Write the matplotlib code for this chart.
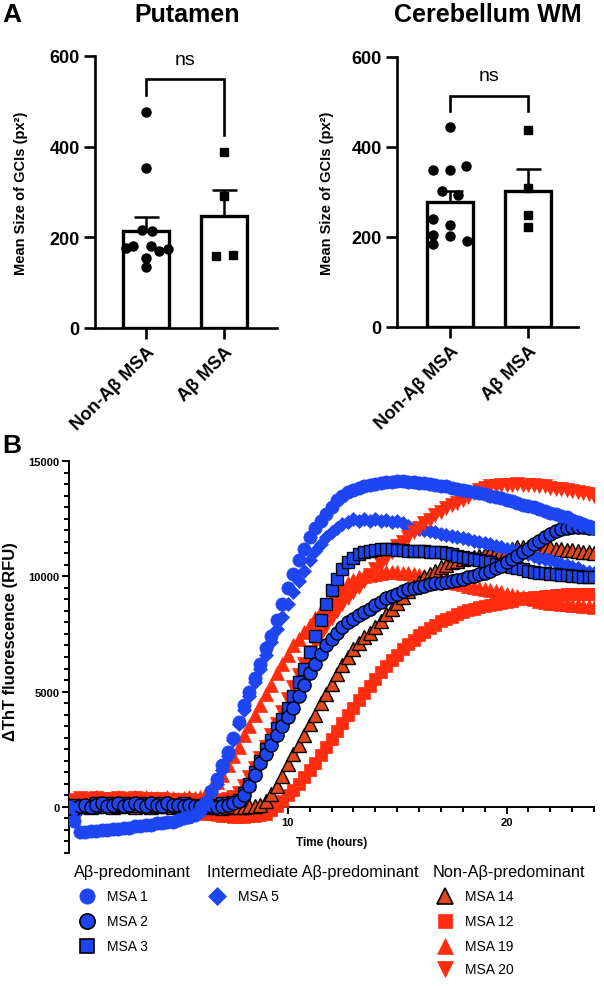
import matplotlib
matplotlib.use('Agg')
import matplotlib.pyplot as plt
import numpy as np

plt.rcParams['font.family'] = ['Liberation Sans', 'DejaVu Sans']

W, H = 604, 987

# ---------------- panel A data ----------------
groups = ['Non-Aβ MSA', 'Aβ MSA']

put_mean = [215, 248]
put_sem = [30, 57]
put_non = [477, 354, 216, 214, 177, 181, 181, 170, 175, 155, 134]
put_non_dx = [0, 0, -0.05, 0.08, -0.26, -0.17, 0.06, 0.17, 0.28, 0, 0]
put_ab = [389, 292, 158, 162]
put_ab_dx = [0, 0, -0.1, 0.11]

cer_mean = [278, 303]
cer_sem = [24, 49]
cer_non = [444, 349, 349, 357, 302, 293, 240, 227, 204, 202, 184, 191]
cer_non_dx = [0, -0.22, 0, 0.21, -0.1, 0.1, -0.22, 0, -0.22, 0, -0.22, 0.22]
cer_ab = [438, 309, 249, 222]
cer_ab_dx = [0, 0, 0, 0]

# ---------------- panel B data (ThT, read every 15 min) ----------------
time_h = np.linspace(0, 24, 97)

msa1 = [0, -600, -1100, -1100, -1050, -1050, -1000, -1000,
        -950, -950, -900, -900, -850, -850, -800, -800,
        -700, -700, -650, -650, -550, -500, -450, -350,
        -200, 200, 700, 1200, 1800, 2400, 3000, 3700,
        4400, 5000, 5600, 6200, 6900, 7400, 8100, 8800,
        9500, 10100, 10700, 11200, 11700, 12100, 12400, 12700,
        13000, 13300, 13500, 13650, 13750, 13850, 13900, 13950,
        14000, 14050, 14100, 14100, 14150, 14150, 14100, 14100,
        14050, 14050, 14000, 13950, 13900, 13900, 13850, 13800,
        13750, 13700, 13650, 13600, 13550, 13500, 13450, 13400,
        13300, 13250, 13200, 13100, 13050, 13000, 12900, 12850,
        12750, 12700, 12600, 12550, 12450, 12350, 12250, 12200,
        12100]

msa2 = [0, -100, 50, 100, 0, 100, 150, 50,
        100, 150, 50, 100, 150, 100, 50, 150,
        100, 50, 150, 100, 100, 50, 100, 50,
        50, 0, 50, 0, 50, 100, 150, 250,
        500, 900, 1400, 1900, 2300, 2700, 3100, 3500,
        3900, 4300, 4800, 5300, 5800, 6200, 6650, 7000,
        7300, 7550, 7800, 8000, 8150, 8300, 8450, 8600,
        8750, 8900, 9050, 9150, 9250, 9350, 9450, 9500,
        9550, 9600, 9650, 9700, 9700, 9750, 9800, 9850,
        9900, 9950, 10000, 10100, 10150, 10250, 10350, 10450,
        10600, 10750, 10900, 11050, 11200, 11400, 11550, 11700,
        11850, 11950, 12050, 12100, 12150, 12150, 12150, 12100,
        12100]

msa3 = [0, 100, 0, 50, 100, 150, 100, 150,
        50, 100, 150, 100, 50, 150, 100, 50,
        100, 150, 100, 50, 100, 150, 50, 100,
        50, 100, 50, 100, 150, 150, 200, 300,
        600, 1000, 1500, 2000, 2500, 2900, 3400, 3800,
        4300, 4800, 5400, 6000, 6700, 7400, 8100, 8800,
        9400, 9900, 10300, 10600, 10800, 10950, 11050, 11100,
        11150, 11200, 11200, 11200, 11150, 11150, 11100, 11100,
        11100, 11100, 11050, 11050, 11050, 11000, 10950, 10900,
        10850, 10800, 10750, 10700, 10650, 10600, 10550, 10500,
        10450, 10400, 10350, 10300, 10250, 10200, 10150, 10150,
        10100, 10100, 10050, 10050, 10000, 10000, 9950, 9950,
        9950]

msa5 = [0, 50, -100, 100, 150, 50, 100, 150,
        100, 150, 200, 100, 150, 200, 150, 100,
        150, 200, 150, 100, 150, 200, 150, 200,
        250, 300, 500, 1000, 1600, 2200, 2900, 3600,
        4200, 4800, 5400, 6000, 6600, 7150, 7700, 8250,
        8800, 9300, 9800, 10250, 10700, 11100, 11400, 11700,
        11900, 12100, 12250, 12350, 12500, 12400, 12500, 12400,
        12500, 12400, 12450, 12350, 12400, 12300, 12200, 12100,
        12050, 12000, 11950, 11900, 11850, 11800, 11750, 11700,
        11650, 11600, 11550, 11500, 11450, 11400, 11300, 11250,
        11200, 11150, 11100, 11000, 10950, 10900, 10800, 10750,
        10700, 10600, 10550, 10500, 10400, 10350, 10250, 10200,
        10150]

msa14 = [0, -50, 50, 100, 0, 50, 100, 50,
         0, 50, 100, 50, 0, 100, 50, 0,
         50, 100, 50, 0, 50, 0, 50, 100,
         50, 0, 50, 0, -50, 0, 50, 0,
         0, 50, 50, 100, 250, 550, 900, 1350,
         1850, 2300, 2700, 3100, 3600, 4000, 4500, 4900,
         5350, 5750, 6150, 6500, 6850, 7100, 7350, 7550,
         7800, 8050, 8350, 8600, 8850, 9100, 9350, 9550,
         9750, 9950, 10100, 10250, 10400, 10500, 10600, 10650,
         10750, 10800, 10850, 10900, 10950, 11000, 11050, 11100,
         11150, 11200, 11250, 11250, 11250, 11300, 11250, 11250,
         11250, 11200, 11200, 11150, 11150, 11100, 11050, 11050,
         11000]

msa12 = [-500, -200, 100, 200, 250, 200, 250, 200,
         250, 200, 200, 150, 200, 150, 150, 100,
         100, 50, 50, 0, -50, -100, -150, -200,
         -250, -300, -300, -350, -400, -400, -450, -450,
         -450, -400, -400, -350, -300, -150, 50, 250,
         500, 750, 1000, 1300, 1600, 1900, 2250, 2600,
         2950, 3300, 3650, 4000, 4300, 4650, 4950, 5250,
         5550, 5850, 6100, 6350, 6600, 6850, 7050, 7250,
         7450, 7600, 7750, 7900, 8050, 8150, 8250, 8350,
         8450, 8550, 8600, 8650, 8700, 8750, 8800, 8850,
         8900, 8950, 9000, 9050, 9050, 9100, 9100, 9150,
         9150, 9200, 9200, 9250, 9250, 9250, 9250, 9250,
         9250]

msa19 = [0, 200, 300, 400, 350, 450, 400, 350,
         400, 450, 400, 350, 450, 400, 450, 400,
         400, 350, 450, 400, 350, 400, 450, 400,
         450, 600, 800, 1100, 1400, 1800, 2200, 2600,
         3100, 3500, 4000, 4400, 4900, 5300, 5800, 6200,
         6600, 7000, 7300, 7600, 7900, 8200, 8500, 8800,
         9050, 9300, 9500, 9700, 9850, 9950, 10000, 10050,
         10100, 10150, 10200, 10200, 10200, 10150, 10150, 10100,
         10050, 10000, 9950, 9900, 9850, 9800, 9750, 9700,
         9650, 9600, 9550, 9500, 9450, 9400, 9350, 9300,
         9250, 9200, 9150, 9100, 9050, 9000, 8950, 8900,
         8850, 8850, 8800, 8800, 8750, 8750, 8700, 8700,
         8650]

msa20 = [0, 300, 400, 350, 300, 400, 350, 300,
         350, 400, 300, 350, 400, 350, 300, 350,
         300, 350, 300, 250, 300, 250, 300, 250,
         200, 250, 200, 250, 300, 350, 450, 600,
         900, 1300, 1700, 2100, 2600, 3100, 3600, 4100,
         4700, 5200, 5700, 6200, 6700, 7100, 7500, 7850,
         8200, 8500, 8800, 9050, 9300, 9550, 9800, 10050,
         10300, 10550, 10800, 11050, 11300, 11500, 11700, 11900,
         12100, 12300, 12450, 12650, 12800, 12950, 13100, 13200,
         13300, 13450, 13600, 13750, 13850, 13900, 13900, 13950,
         13950, 13950, 14000, 13950, 13950, 13950, 13900, 13900,
         13850, 13800, 13800, 13750, 13700, 13650, 13600, 13550,
         13500]

blue = '#1E45F2'
red = '#FF2D0E'
orange = '#E4461C'

# label, values, marker, face, edge, size, legend column, legend row
series = [
    ('MSA 12', msa12, 's', red, red, 9, 2, 1),
    ('MSA 19', msa19, '^', red, red, 9.5, 2, 2),
    ('MSA 14', msa14, '^', orange, 'black', 9.5, 2, 0),
    ('MSA 5', msa5, 'D', blue, blue, 7.5, 1, 0),
    ('MSA 20', msa20, 'v', red, red, 9.5, 2, 3),
    ('MSA 3', msa3, 's', blue, 'black', 8.5, 0, 2),
    ('MSA 2', msa2, 'o', blue, 'black', 9.5, 0, 1),
    ('MSA 1', msa1, 'o', blue, blue, 9.5, 0, 0),
]

fig = plt.figure(figsize=(W / 100, H / 100), dpi=100)


def add_px_axes(left, top, right, bottom):
    return fig.add_axes([left / W, 1 - bottom / H, (right - left) / W, (bottom - top) / H])


# overlay in pixel coordinates for legend of panel B
axo = fig.add_axes([0, 0, 1, 1])
axo.set_xlim(0, W)
axo.set_ylim(H, 0)
axo.axis('off')


def bar_panel(ax, means, sems, non, non_dx, ab, ab_dx, bracket, ns_y, xlim, ylab_x):
    x = np.arange(2)
    ax.bar(x, means, width=0.6, color='white', edgecolor='black', linewidth=2.4, zorder=1)
    ax.errorbar(x, means, yerr=[[0, 0], sems], fmt='none', ecolor='black',
                elinewidth=1.8, capsize=9, capthick=1.8, zorder=2)
    ax.plot(0 + np.array(non_dx), non, 'o', color='black', ms=6.5, zorder=3)
    ax.plot(1 + np.array(ab_dx), ab, 's', color='black', ms=6, zorder=3)
    ax.plot([0, 0, 1, 1], bracket, color='black', lw=1.9, solid_joinstyle='miter')
    ax.text(0.5, ns_y, 'ns', ha='center', va='center', fontsize=14)
    ax.set_xlim(*xlim)
    ax.set_ylim(0, 600)
    ax.set_yticks([0, 200, 400, 600])
    ax.set_xticks(x)
    ax.set_xticklabels(groups, rotation=45, ha='right', va='top',
                       rotation_mode='anchor', fontsize=13, fontweight='bold')
    for lbl in ax.get_yticklabels():
        lbl.set_fontweight('bold')
    ax.tick_params(axis='both', length=8, width=1.9, labelsize=13, pad=3)
    for s in ['top', 'right']:
        ax.spines[s].set_visible(False)
    for s in ['left', 'bottom']:
        ax.spines[s].set_linewidth(1.9)
    ax.set_ylabel('Mean Size of GCIs (px²)', fontsize=10.5, fontweight='bold')
    ax.yaxis.set_label_coords(ylab_x, 0.5)


axL = add_px_axes(95, 57, 277, 329)
bar_panel(axL, put_mean, put_sem, put_non, put_non_dx, put_ab, put_ab_dx,
          [513, 550, 550, 425], 592, (-0.654, 1.68), -0.37)
axR = add_px_axes(397, 58, 578, 328)
bar_panel(axR, cer_mean, cer_sem, cer_non, cer_non_dx, cer_ab, cer_ab_dx,
          [480, 514, 514, 480], 558, (-0.68, 1.64), -0.35)

fig.text(187 / W, 1 - 15 / H, 'Putamen', ha='center', va='center', fontsize=18, fontweight='bold')
fig.text(488 / W, 1 - 15 / H, 'Cerebellum WM', ha='center', va='center', fontsize=18, fontweight='bold')
fig.text(2 / W, 1 - 15 / H, 'A', ha='left', va='center', fontsize=19, fontweight='bold')
fig.text(2 / W, 1 - 446 / H, 'B', ha='left', va='center', fontsize=19, fontweight='bold')

# ---------------- panel B ----------------
axB = add_px_axes(69, 462, 594, 854)
for name, vals, mk, fc, ec, ms, col, row in series:
    axB.plot(time_h, vals, linestyle='none', marker=mk, ms=ms, mfc=fc, mec=ec,
             mew=1.0 if ec == 'black' else 0.5, zorder=3)

axB.set_xlim(0, 24)
axB.set_ylim(-2000, 15000)
axB.spines['bottom'].set_position(('data', 0))
for s in ['top', 'right']:
    axB.spines[s].set_visible(False)
for s in ['left', 'bottom']:
    axB.spines[s].set_linewidth(1.4)
    axB.spines[s].set_zorder(1)
axB.set_xticks([10, 20])
axB.set_xticks(np.arange(0, 25), minor=True)
axB.set_yticks([0, 5000, 10000, 15000])
axB.set_yticks(np.arange(-2000, 15001, 500), minor=True)
axB.tick_params(axis='both', which='major', length=5, width=1.4, labelsize=8, pad=2)
axB.tick_params(axis='both', which='minor', length=3.5, width=1.4)
for lbl in axB.get_xticklabels() + axB.get_yticklabels():
    lbl.set_fontweight('bold')
axB.set_ylabel('ΔThT fluorescence (RFU)', fontsize=12, fontweight='bold')
axB.yaxis.set_label_coords(-0.097, 0.543)
fig.text(332 / W, 1 - 843 / H, 'Time (hours)', ha='center', va='center', fontsize=8.5, fontweight='bold')

# legend block
headers = ['Aβ-predominant', 'Intermediate Aβ-predominant', 'Non-Aβ-predominant']
head_x = [74, 207, 433]
mark_x = [87, 217, 445]
text_x = [107, 238, 465]
row_y = [897, 922, 947, 970]
for hx, ht in zip(head_x, headers):
    axo.text(hx, 873, ht, ha='left', va='center', fontsize=11.8)
for name, vals, mk, fc, ec, ms, col, row in series:
    axo.plot(mark_x[col], row_y[row], marker=mk, ms=ms + 1.5, mfc=fc, mec=ec,
             mew=1.2 if ec == 'black' else 0.5, linestyle='none')
    axo.text(text_x[col], row_y[row], name, ha='left', va='center', fontsize=10)

fig.savefig('out.png', dpi=100)
